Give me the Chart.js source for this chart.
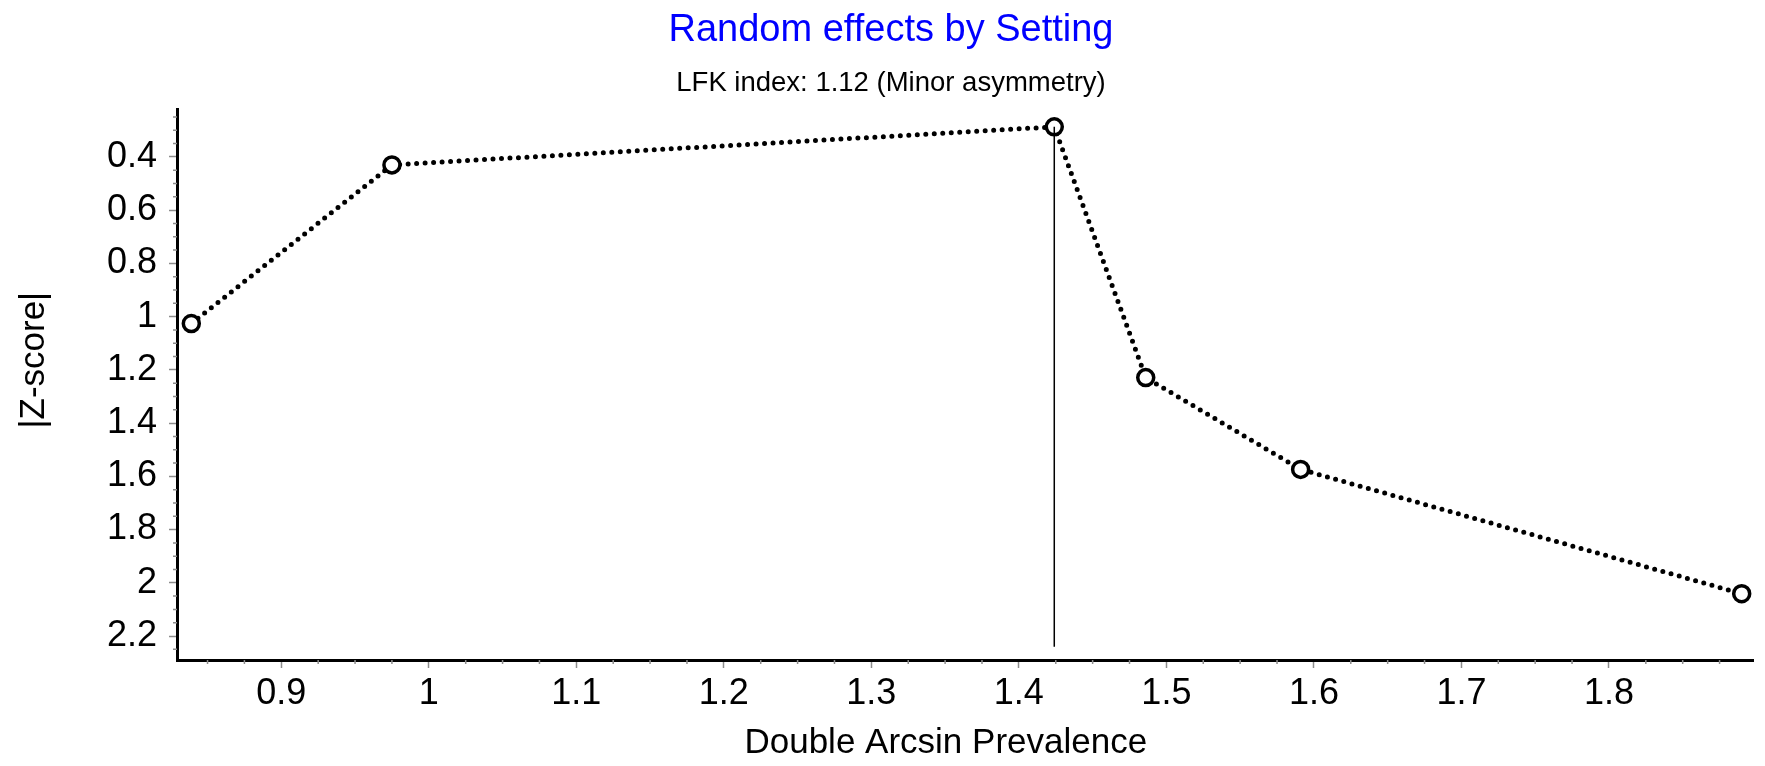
<!DOCTYPE html>
<html>
<head>
<meta charset="utf-8">
<script src="https://cdn.jsdelivr.net/npm/chart.js@4/dist/chart.umd.min.js"></script>
<style>
  html, body { margin: 0; padding: 0; background: #fff; }
  canvas { display: block; }
</style>
</head>
<body>
<canvas id="lfkChart" width="1765" height="766"></canvas>
<script>
// Doi plot values
const prevalence = [0.839, 0.975, 1.424, 1.486, 1.591, 1.890];
const zScore = [1.026, 0.430, 0.287, 1.229, 1.574, 2.041];

// vertical line under the point with the smallest |Z-score|
const midLineX = [1.424, 1.424];
const midLineZ = [0.287, 2.24];

const xRange = [0.8293, 1.898];
const zRange = [0.22, 2.29];

const titleText = 'Random effects by Setting';
const subtitleText = 'LFK index: 1.12 (Minor asymmetry)';
// padded with spaces so the centred text sits where the original has it
const xTitle = 'Double Arcsin Prevalence    ';
const yTitle = '     |Z-score|';

Chart.defaults.font.family = '"Liberation Sans", Arial, sans-serif';
Chart.defaults.color = '#000';

const fmt = v => String(+v.toFixed(2));

// short minor ticks between the labelled ones
const minorTicks = {
    id: 'minorTicks',
    afterDraw(chart) {
        const ctx = chart.ctx;
        const x = chart.scales.x;
        const y = chart.scales.y;
        ctx.save();
        ctx.strokeStyle = '#8c8c8c';
        ctx.lineWidth = 1.5;
        ctx.beginPath();
        for (let i = Math.ceil(x.min / 0.025); i * 0.025 <= x.max; i++) {
            if (i % 4 === 0) continue;
            const px = x.getPixelForValue(i * 0.025);
            ctx.moveTo(px, x.top);
            ctx.lineTo(px, x.top + 4);
        }
        for (let i = Math.ceil(y.min / 0.05); i * 0.05 <= y.max; i++) {
            if (i % 4 === 0) continue;
            const py = y.getPixelForValue(i * 0.05);
            ctx.moveTo(y.right, py);
            ctx.lineTo(y.right - 4, py);
        }
        ctx.stroke();
        ctx.restore();
    }
};

new Chart(document.getElementById('lfkChart'), {
    type: 'scatter',
    data: {
        datasets: [
            {
                // midpoint line, drawn over the circle
                data: midLineX.map((v, i) => ({ x: v, y: midLineZ[i] })),
                showLine: true,
                borderColor: '#000',
                borderWidth: 1.5,
                pointRadius: 0,
                order: 0,
                clip: false
            },
            {
                data: prevalence.map((v, i) => ({ x: v, y: zScore[i] })),
                showLine: true,
                borderColor: '#000',
                borderWidth: 5,
                borderDash: [0, 8.5],
                borderCapStyle: 'round',
                pointRadius: 8,
                pointBorderWidth: 3.5,
                pointBackgroundColor: '#fff',
                pointBorderColor: '#000',
                order: 1,
                clip: false
            }
        ]
    },
    options: {
        responsive: false,
        animation: false,
        layout: { padding: { left: 17 } },
        plugins: {
            legend: { display: false },
            tooltip: { enabled: false },
            title: {
                display: true,
                text: titleText,
                color: '#0000ff',
                font: { size: 38, weight: 'normal' },
                padding: { top: 8, bottom: 0 }
            },
            subtitle: {
                display: true,
                text: subtitleText,
                color: '#000',
                font: { size: 27.5 },
                padding: { top: 13, bottom: 9.4 }
            }
        },
        scales: {
            x: {
                type: 'linear',
                min: xRange[0],
                max: xRange[1],
                afterFit: s => { s.height = 106; },
                grid: {
                    drawOnChartArea: false,
                    drawTicks: true,
                    tickLength: 8,
                    tickColor: '#8c8c8c',
                    tickWidth: 1.5
                },
                border: { color: '#000', width: 3 },
                ticks: {
                    stepSize: 0.1,
                    includeBounds: false,
                    autoSkip: false,
                    maxRotation: 0,
                    padding: 4,
                    font: { size: 36 },
                    callback: fmt
                },
                title: {
                    display: true,
                    text: xTitle,
                    font: { size: 35 },
                    padding: { top: 0, bottom: 2 }
                }
            },
            y: {
                type: 'linear',
                reverse: true,
                min: zRange[0],
                max: zRange[1],
                afterFit: s => { s.width = 160; },
                grid: {
                    drawOnChartArea: false,
                    drawTicks: true,
                    tickLength: 8,
                    tickColor: '#8c8c8c',
                    tickWidth: 1.5
                },
                border: { color: '#000', width: 3 },
                ticks: {
                    stepSize: 0.2,
                    includeBounds: false,
                    autoSkip: false,
                    padding: 12,
                    font: { size: 36 },
                    callback: fmt
                },
                title: {
                    display: true,
                    text: yTitle,
                    font: { size: 35 },
                    padding: { top: -4, bottom: 0 }
                }
            }
        }
    },
    plugins: [minorTicks]
});
</script>
</body>
</html>
